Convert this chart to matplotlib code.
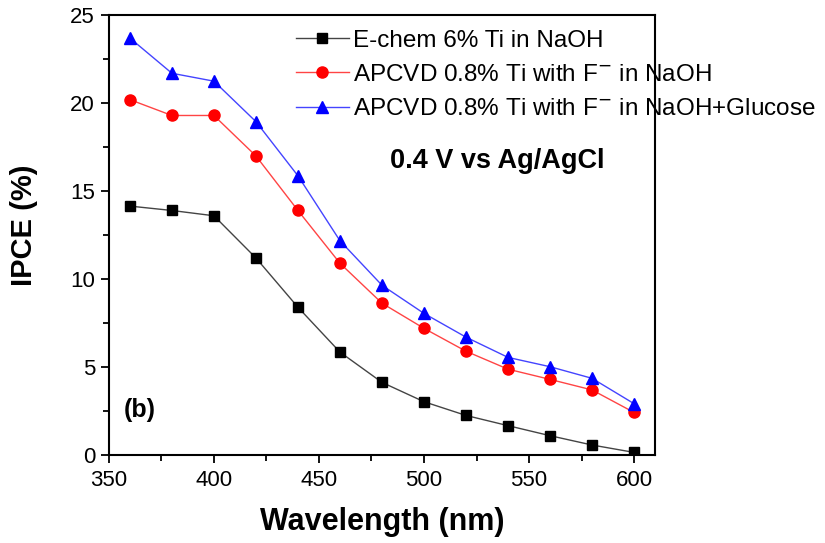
import matplotlib
matplotlib.use("Agg")
import matplotlib.pyplot as plt
from matplotlib.ticker import MultipleLocator

plt.rcParams['font.family'] = ['Liberation Sans', 'DejaVu Sans']

wavelength = [360, 380, 400, 420, 440, 460, 480, 500, 520, 540, 560, 580, 600]
echem = [14.15, 13.9, 13.6, 11.2, 8.4, 5.85, 4.13, 3.03, 2.25, 1.67, 1.1, 0.57, 0.15]
apcvd = [20.2, 19.3, 19.3, 17.0, 13.9, 10.9, 8.63, 7.2, 5.9, 4.88, 4.3, 3.7, 2.42]
apcvd_glucose = [23.7, 21.7, 21.25, 18.95, 15.87, 12.18, 9.65, 8.05, 6.7, 5.55, 5.02, 4.36, 2.92]

labels = ['E-chem 6% Ti in NaOH',
          'APCVD 0.8% Ti with F$^{-}$ in NaOH',
          'APCVD 0.8% Ti with F$^{-}$ in NaOH+Glucose']

fig = plt.figure(figsize=(8.25, 5.43), dpi=100)
ax = fig.add_axes([0.132, 0.162, 0.662, 0.81])

ax.plot(wavelength, echem, color='#444444', lw=1, marker='s', ms=7,
        mfc='black', mec='black', label=labels[0])
ax.plot(wavelength, apcvd, color='#ff4444', lw=1, marker='o', ms=8,
        mfc='red', mec='red', label=labels[1])
ax.plot(wavelength, apcvd_glucose, color='#4444ff', lw=1, marker='^', ms=8,
        mfc='blue', mec='blue', label=labels[2])

ax.set_xlim(350, 610)
ax.set_ylim(0, 25)
ax.xaxis.set_major_locator(MultipleLocator(50))
ax.xaxis.set_minor_locator(MultipleLocator(25))
ax.yaxis.set_major_locator(MultipleLocator(5))
ax.yaxis.set_minor_locator(MultipleLocator(2.5))
ax.tick_params(which='major', direction='out', length=6, width=1.3, labelsize=16)
ax.tick_params(which='minor', direction='out', length=4, width=1.3)
ax.tick_params(axis='x', pad=5)
ax.tick_params(axis='y', pad=4)
for s in ax.spines.values():
    s.set_linewidth(1.5)

ax.set_xlabel('Wavelength (nm)', fontsize=22, fontweight='bold', labelpad=11)
ax.set_ylabel('IPCE (%)', fontsize=21, fontweight='bold')
ax.yaxis.set_label_coords(-0.13, 0.523)

ax.text(0.515, 0.668, '0.4 V vs Ag/AgCl', transform=ax.transAxes,
        fontsize=19.5, fontweight='bold', ha='left', va='center')
ax.text(0.028, 0.102, '(b)', transform=ax.transAxes,
        fontsize=18, fontweight='bold', ha='left', va='center')

ax.legend(loc='upper left', bbox_to_anchor=(0.342, 0.967), frameon=False,
          fontsize=17.5, handlelength=2.2, handletextpad=0.15, labelspacing=0.5,
          borderaxespad=0, borderpad=0)

fig.savefig('out.png', dpi=100)
